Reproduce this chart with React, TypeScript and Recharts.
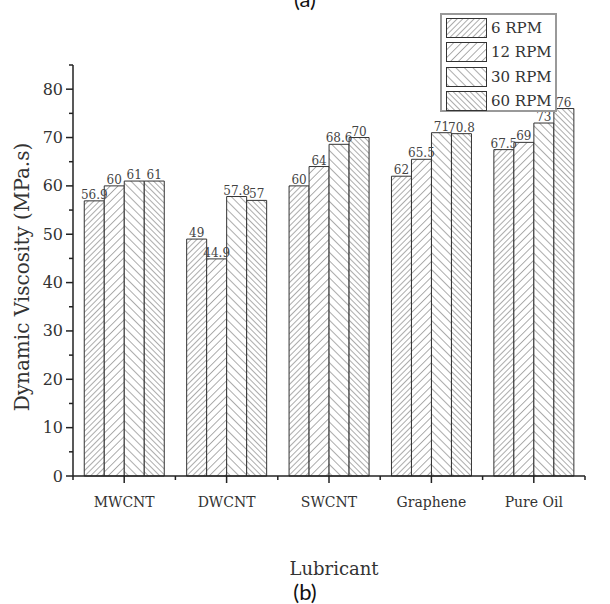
import React from 'react';
import { BarChart, Bar, XAxis, YAxis, LabelList } from 'recharts';

const lubricants = ['MWCNT', 'DWCNT', 'SWCNT', 'Graphene', 'Pure Oil'];
const rpm6 = [56.9, 49, 60, 62, 67.5];
const rpm12 = [60, 44.9, 64, 65.5, 69];
const rpm30 = [61, 57.8, 68.6, 71, 73];
const rpm60 = [61, 57, 70, 70.8, 76];
const yTicks = [0, 5, 10, 15, 20, 25, 30, 35, 40, 45, 50, 55, 60, 65, 70, 75, 80, 85];

const series = [
  { key: 'rpm6', name: '6 RPM', pattern: 'hatch6' },
  { key: 'rpm12', name: '12 RPM', pattern: 'hatch12' },
  { key: 'rpm30', name: '30 RPM', pattern: 'hatch30' },
  { key: 'rpm60', name: '60 RPM', pattern: 'hatch60' },
];

const data = lubricants.map((name, i) => ({
  name,
  rpm6: rpm6[i],
  rpm12: rpm12[i],
  rpm30: rpm30[i],
  rpm60: rpm60[i],
}));

const W = 610;
const H = 604;
const margin = { top: 65, right: 25, bottom: 98, left: 33 };
const yAxisWidth = 40;
const plotLeft = margin.left + yAxisWidth;
const bandWidth = (W - margin.right - plotLeft) / lubricants.length;

const serif = '"DejaVu Serif", serif';
const axisColor = '#222';

const Hatch = ({ id, gap, angle }: { id: string; gap: number; angle: number }) => (
  <pattern id={id} patternUnits="userSpaceOnUse" width={gap} height={gap} patternTransform={`rotate(${angle})`}>
    <rect width={gap} height={gap} fill="#fff" />
    <line x1={0} y1={0} x2={0} y2={gap} stroke="#5a5a5a" strokeWidth={1} />
  </pattern>
);

const YTick = (props: any) => {
  const { x, y, payload } = props;
  const major = payload.value % 10 === 0 && payload.value <= 80;
  return (
    <g>
      <line x1={x - (major ? 7 : 4)} x2={x} y1={y} y2={y} stroke={axisColor} strokeWidth={1.5} />
      {major && (
        <text x={x - 10} y={y} dy={5.5} textAnchor="end" fontFamily={serif} fontSize={16} fill="#333">
          {payload.value}
        </text>
      )}
    </g>
  );
};

const XTick = (props: any) => {
  const { x, y, payload, index } = props;
  const last = index === lubricants.length - 1;
  return (
    <g>
      <line x1={x} x2={x} y1={y} y2={y + 7} stroke={axisColor} strokeWidth={1.5} />
      <line x1={x - bandWidth / 2} x2={x - bandWidth / 2} y1={y} y2={y + 4} stroke={axisColor} strokeWidth={1.5} />
      {last && <line x1={x + bandWidth / 2} x2={x + bandWidth / 2} y1={y} y2={y + 4} stroke={axisColor} strokeWidth={1.5} />}
      <text x={x} y={y + 31} textAnchor="middle" fontFamily={serif} fontSize={14} fill="#333">
        {payload.value}
      </text>
    </g>
  );
};

const LegendBox = () => (
  <div
    style={{
      position: 'absolute',
      left: 440,
      top: 13,
      width: 117,
      height: 99,
      border: '2px solid #999',
      boxSizing: 'border-box',
      background: '#fff',
    }}
  >
    {series.map((s, i) => (
      <div key={s.key} style={{ position: 'absolute', left: 4, top: 3 + i * 24.3, height: 20, display: 'flex', alignItems: 'center' }}>
        <svg width={41} height={20}>
          <rect x={0.5} y={0.5} width={40} height={19} fill={`url(#${s.pattern})`} stroke="#333" strokeWidth={1} />
        </svg>
        <span style={{ marginLeft: 4, fontFamily: serif, fontSize: 15, color: '#333', whiteSpace: 'nowrap' }}>{s.name}</span>
      </div>
    ))}
  </div>
);

export default function App() {
  return (
    <div style={{ position: 'absolute', left: 0, top: 0, width: W, height: H, background: '#fff', overflow: 'hidden' }}>
      <BarChart width={W} height={H} data={data} margin={margin} barCategoryGap="11%" barGap={0}>
        <defs>
          <Hatch id="hatch6" gap={4} angle={45} />
          <Hatch id="hatch12" gap={5.5} angle={45} />
          <Hatch id="hatch30" gap={6} angle={-45} />
          <Hatch id="hatch60" gap={4} angle={-45} />
        </defs>
        <XAxis
          dataKey="name"
          height={30}
          interval={0}
          tickSize={0}
          tickMargin={0}
          tickLine={false}
          tick={(p: any) => <XTick {...p} />}
          axisLine={{ stroke: axisColor, strokeWidth: 1.5 }}
        />
        <YAxis
          width={yAxisWidth}
          domain={[0, 85]}
          ticks={yTicks}
          interval={0}
          tickSize={0}
          tickMargin={0}
          tickLine={false}
          tick={(p: any) => <YTick {...p} />}
          axisLine={{ stroke: axisColor, strokeWidth: 1.5 }}
        />
        {series.map((s) => (
          <Bar key={s.key} dataKey={s.key} name={s.name} fill={`url(#${s.pattern})`} stroke="#333" strokeWidth={1} isAnimationActive={false}>
            <LabelList dataKey={s.key} position="top" offset={2} fontFamily={serif} fontSize={12} fill="#444" />
          </Bar>
        ))}
      </BarChart>
      <LegendBox />
      <div style={{ position: 'absolute', left: 0, width: W, top: -15, textAlign: 'center', fontFamily: 'Lato, sans-serif', fontSize: 22, color: '#111' }}>
        (a)
      </div>
      <div
        style={{
          position: 'absolute',
          left: 22,
          top: 277,
          transform: 'translate(-50%, -50%) rotate(-90deg)',
          whiteSpace: 'nowrap',
          fontFamily: serif,
          fontSize: 20,
          color: '#333',
        }}
      >
        Dynamic Viscosity (MPa.s)
      </div>
      <div style={{ position: 'absolute', left: 334, top: 568, transform: 'translate(-50%, -50%)', fontFamily: serif, fontSize: 18, color: '#333' }}>
        Lubricant
      </div>
      <div style={{ position: 'absolute', left: 0, width: W, top: 578, textAlign: 'center', fontFamily: 'Lato, sans-serif', fontSize: 22, color: '#111' }}>
        (b)
      </div>
    </div>
  );
}
